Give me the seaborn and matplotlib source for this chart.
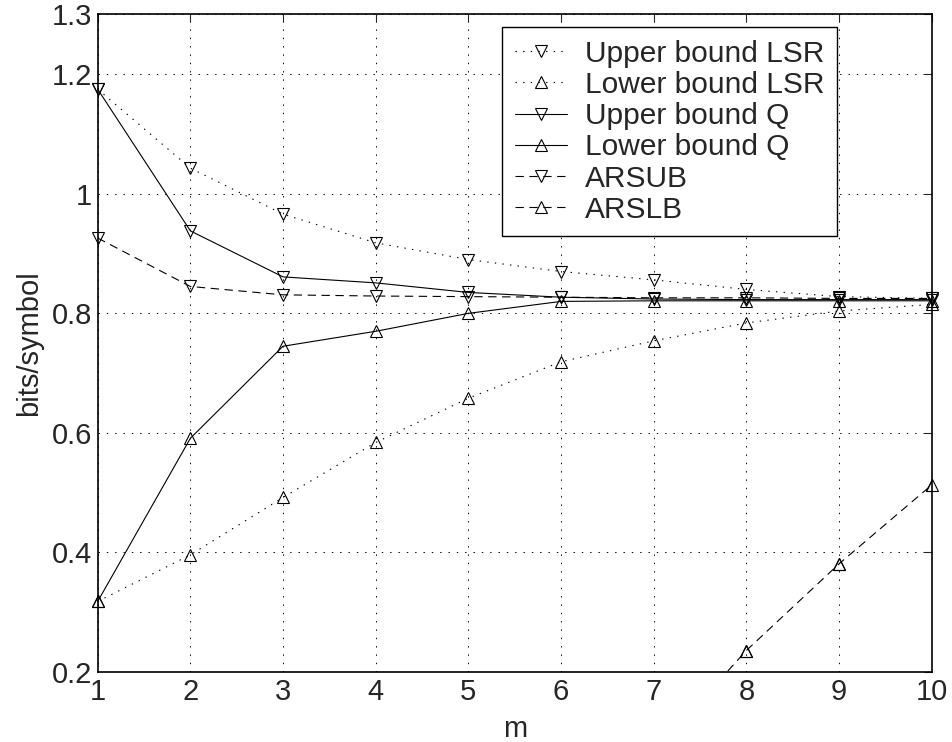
import matplotlib
matplotlib.use("Agg")
import matplotlib.pyplot as plt
import numpy as np
import pandas as pd
import seaborn as sns

# values
m = [1, 2, 3, 4, 5, 6, 7, 8, 9, 10]
upper_lsr = [1.175, 1.043, 0.966, 0.918, 0.890, 0.870, 0.856, 0.840, 0.828, 0.825]
lower_lsr = [0.318, 0.396, 0.492, 0.584, 0.658, 0.719, 0.754, 0.784, 0.804, 0.815]
upper_q = [1.175, 0.938, 0.861, 0.851, 0.835, 0.827, 0.824, 0.823, 0.823, 0.823]
lower_q = [0.318, 0.591, 0.745, 0.770, 0.800, 0.820, 0.821, 0.821, 0.821, 0.821]
arsub = [0.926, 0.845, 0.831, 0.829, 0.828, 0.827, 0.826, 0.826, 0.825, 0.825]
# first points of ARSLB lie below the axis, only the tail is visible
arslb = [-1.2, -0.95, -0.72, -0.5, -0.3, -0.11, 0.065, 0.236, 0.381, 0.513]

labels = ['Upper bound LSR', 'Lower bound LSR', 'Upper bound Q',
          'Lower bound Q', 'ARSUB', 'ARSLB']
series = [upper_lsr, lower_lsr, upper_q, lower_q, arsub, arslb]

sns.set_style('white')
plt.rcParams['font.family'] = ['Liberation Sans', 'DejaVu Sans']
plt.rcParams['font.size'] = 21
plt.rcParams['lines.scale_dashes'] = False

dotted = (0, (1, 4.5))
dashed = (0, (6, 4))
styles = [(dotted, 'v'), (dotted, '^'), ('-', 'v'), ('-', '^'),
          (dashed, 'v'), (dashed, '^')]

df = pd.DataFrame({'m': m})
for lab, vals in zip(labels, series):
    df[lab] = vals
ylo, yhi = 0.2, 1.3

fig = plt.figure(figsize=(9.52, 7.42), dpi=100)
ax = fig.add_axes([0.1026, 0.0943, 0.8761, 0.8862])

mk_kw = dict(markersize=8, markerfacecolor='none', markeredgecolor='black',
             markeredgewidth=0.8)
for lab, (ls, mk) in zip(labels, styles):
    inside = df[lab].between(ylo, yhi).all()
    sns.lineplot(data=df, x='m', y=lab, ax=ax, color='black', linestyle=ls,
                 linewidth=0.8, marker=mk, label=lab, clip_on=not inside,
                 **mk_kw)
    if not inside:
        # markers of the visible points drawn unclipped, like the original
        vis = df[lab].where(df[lab] >= ylo)
        ax.plot(df['m'], vis, linestyle='none', marker=mk, clip_on=False,
                **mk_kw)

ax.set_xlim(1, 10)
ax.set_ylim(ylo, yhi)
ax.set_xticks(m)
ax.set_yticks([0.2, 0.4, 0.6, 0.8, 1.0, 1.2, 1.3])
ax.set_yticklabels(['0.2', '0.4', '0.6', '0.8', '1', '1.2', '1.3'])
ax.grid(True, color='black', linestyle=(0, (1, 5)), linewidth=0.7)
ax.tick_params(direction='in', length=6, width=0.8, top=True, right=True,
               labelsize=21, pad=4)
for sp in ax.spines.values():
    sp.set_color('black')
    sp.set_linewidth(1.2)

ax.set_xlabel('m', fontsize=21, labelpad=7)
ax.set_ylabel('bits/symbol', fontsize=21, labelpad=6)

leg = ax.legend(loc='upper right', bbox_to_anchor=(0.8865, 0.981),
                borderaxespad=0, fontsize=21.5, fancybox=False, framealpha=1,
                edgecolor='black', handlelength=1.75, handletextpad=0.6,
                labelspacing=0.11, borderpad=0.42, numpoints=1)
leg.get_frame().set_linewidth(1.0)

fig.savefig('out.png', dpi=100)
